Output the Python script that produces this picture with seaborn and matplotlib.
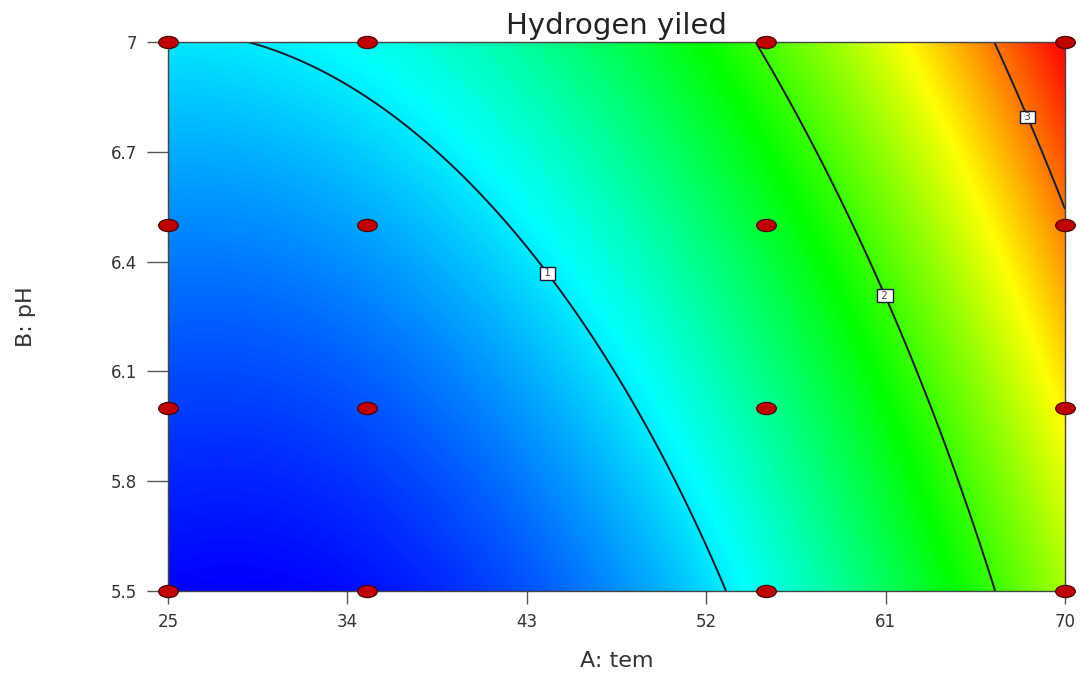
import numpy as np
import seaborn as sns
import matplotlib
matplotlib.use('Agg')
import matplotlib.pyplot as plt
from matplotlib.colors import LinearSegmentedColormap
from matplotlib.path import Path
from matplotlib.transforms import Affine2D

# response (rows: pH, columns: temperature)
tem_grid = [25, 30, 35, 40, 45, 50, 55, 60, 65, 70]
ph_grid = [5.5, 5.75, 6.0, 6.25, 6.5, 6.75, 7.0]
yield_grid = [
    [0.30, 0.29, 0.33, 0.44, 0.61, 0.84, 1.12, 1.47, 1.87, 2.33],
    [0.38, 0.38, 0.43, 0.55, 0.72, 0.95, 1.24, 1.59, 2.00, 2.47],
    [0.48, 0.48, 0.54, 0.66, 0.84, 1.08, 1.38, 1.73, 2.15, 2.62],
    [0.58, 0.59, 0.66, 0.79, 0.97, 1.22, 1.52, 1.89, 2.31, 2.79],
    [0.70, 0.72, 0.79, 0.93, 1.12, 1.37, 1.68, 2.05, 2.48, 2.97],
    [0.84, 0.86, 0.94, 1.08, 1.28, 1.54, 1.85, 2.23, 2.66, 3.16],
    [0.98, 1.01, 1.10, 1.24, 1.45, 1.71, 2.04, 2.42, 2.86, 3.36],
]
contour_levels = [1, 2, 3]

# design points
design_tem = [25, 25, 25, 25, 35, 35, 35, 35, 55, 55, 55, 55, 70, 70, 70, 70]
design_ph = [5.5, 6.0, 6.5, 7.0, 5.5, 6.0, 6.5, 7.0, 5.5, 6.0, 6.5, 7.0, 5.5, 6.0, 6.5, 7.0]

x_ticks = [25, 34, 43, 52, 61, 70]
x_ticklabels = ['25', '34', '43', '52', '61', '70']
y_ticks = [5.5, 5.8, 6.1, 6.4, 6.7, 7.0]
y_ticklabels = ['5.5', '5.8', '6.1', '6.4', '6.7', '7']

sns.set_style('white')
plt.rcParams['font.family'] = ['DejaVu Sans']

fig = plt.figure(figsize=(10.86, 6.75), dpi=100)
ax = fig.add_axes([0.1547, 0.1244, 0.826, 0.8133])

# quadratic response surface fitted to the read grid (coded units -1..1)
t0, t1 = min(tem_grid), max(tem_grid)
p0, p1 = min(ph_grid), max(ph_grid)
TG, PG = np.meshgrid(tem_grid, ph_grid)
ca = ((TG - (t0 + t1) / 2) / ((t1 - t0) / 2)).ravel()
cb = ((PG - (p0 + p1) / 2) / ((p1 - p0) / 2)).ravel()
X = np.column_stack([np.ones_like(ca), ca, cb, ca * cb, ca ** 2, cb ** 2])
coef = np.linalg.lstsq(X, np.array(yield_grid).ravel(), rcond=None)[0]

fa, fb = np.meshgrid(np.linspace(-1, 1, 400), np.linspace(-1, 1, 400))
fz = coef[0] + coef[1] * fa + coef[2] * fb + coef[3] * fa * fb + coef[4] * fa ** 2 + coef[5] * fb ** 2
ft = (t0 + t1) / 2 + fa * (t1 - t0) / 2
fp = (p0 + p1) / 2 + fb * (p1 - p0) / 2

cmap = LinearSegmentedColormap.from_list('dx', ['#0000ff', '#00ffff', '#00ff00', '#ffff00', '#ff0000'])
ax.pcolormesh(ft, fp, fz, shading='gouraud', cmap=cmap,
              vmin=fz.min(), vmax=fz.max(), rasterized=True)

cs = ax.contour(ft, fp, fz, levels=contour_levels, colors='#1a1d30', linewidths=1.4)
labels = ax.clabel(cs, fmt=' %d ', inline=False, fontsize=7.5,
                   manual=[(44.1, 6.37), (61.1, 6.31), (68.3, 6.80)])
for t in labels:
    t.set_rotation(0)
    t.set_color('#444444')
    t.set_bbox(dict(boxstyle='square,pad=0.12', facecolor='white', edgecolor='#1a1a33', linewidth=1.0))

# red design points (flattened circles, as in the stretched original)
ellipse = Path.unit_circle().transformed(Affine2D().scale(1.0, 0.62))
sns.scatterplot(x=design_tem, y=design_ph, ax=ax, marker=ellipse, s=200, color='#c00000',
                edgecolor='#4a0000', linewidth=0.9, zorder=5, clip_on=False, legend=False)

ax.set_xlim(25, 70)
ax.set_ylim(5.5, 7)
ax.set_xticks(x_ticks)
ax.set_xticklabels(x_ticklabels)
ax.set_yticks(y_ticks)
ax.set_yticklabels(y_ticklabels)
ax.tick_params(direction='out', width=1, color='#555555', labelsize=12,
               labelcolor='#333333', bottom=True, left=True)
ax.tick_params(axis='x', length=9, pad=7)
ax.tick_params(axis='y', length=15, pad=7)
for s in ax.spines.values():
    s.set_color('#444444')
    s.set_linewidth(1)

ax.set_title('Hydrogen yiled', fontsize=21, color='#222222', pad=6)
ax.set_xlabel('A: tem', fontsize=16, color='#333333', labelpad=14)
ax.set_ylabel('B: pH', fontsize=16, color='#333333', labelpad=54)

plt.savefig('out.png', dpi=100)
